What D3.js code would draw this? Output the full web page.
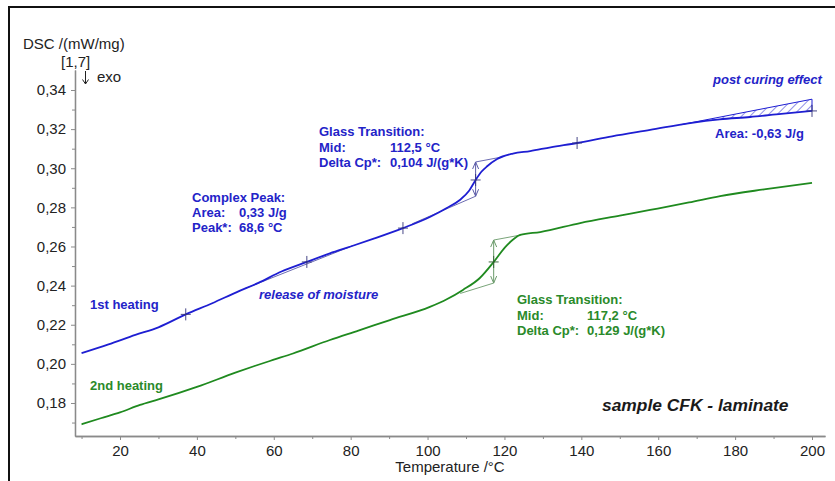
<!DOCTYPE html>
<html>
<head>
<meta charset="utf-8">
<script src="https://cdn.jsdelivr.net/npm/d3@7"></script>
<style>
  html, body { margin: 0; padding: 0; background: #fff; }
  svg { display: block; font-family: "Liberation Sans", Arial, sans-serif; }
</style>
</head>
<body>
<svg id="chart" width="835" height="481"></svg>
<script>
// ---- DSC data: 1st heating (blue) ----
const temp1 = [10, 17, 24, 30, 37.1, 44, 50.4, 56, 62, 68.6, 74.6, 80, 86, 93.6, 100.6, 105, 108.4,
               110.8, 112.5, 114, 115.5, 118.1, 122.2, 126.7, 132, 138.9, 148, 157.9, 168.3, 176, 183.9, 192, 200];
const dsc1  = [0.2055, 0.2100, 0.2148, 0.2187, 0.2253, 0.2310, 0.2367, 0.2414, 0.2472, 0.2521, 0.2565,
               0.2600, 0.2640, 0.2694, 0.2751, 0.2797, 0.2838, 0.2885, 0.2940, 0.2982, 0.3010, 0.3047,
               0.3075, 0.3088, 0.3107, 0.3129, 0.3163, 0.3196, 0.3231, 0.3250, 0.3262, 0.3278, 0.3293];

// ---- DSC data: 2nd heating (green) ----
const temp2 = [10, 15, 20, 25.2, 30, 40, 50, 55, 59.8, 65, 74.6, 82, 90.2, 100.6, 105, 109.2, 113.6,
               117.2, 120.2, 122.5, 124.1, 129.3, 139.7, 150, 157.9, 168, 176.1, 188, 200];
const dsc2  = [0.1691, 0.1722, 0.1752, 0.1790, 0.1818, 0.1882, 0.1955, 0.1989, 0.2020, 0.2053, 0.2122,
               0.2170, 0.2224, 0.2291, 0.2330, 0.2378, 0.2439, 0.2521, 0.2597, 0.2640, 0.2659, 0.2674,
               0.2720, 0.2758, 0.2787, 0.2825, 0.2858, 0.2893, 0.2925];

// ---- evaluation marks ----
const marks1 = [37.1, 68.6, 93.6, 112.5, 138.9, 200];    // "+" markers on 1st heating
const marks2 = [117.2];                                  // "+" marker on 2nd heating
// complex peak baseline [T, DSC]
const peakBase = [[52.5, 0.2385], [80.5, 0.2604]];
// glass transition tangents [T, DSC]
const gt1Lower = [[96, 0.2716], [112.5, 0.2857]];
const gt1Upper = [[112.5, 0.3032], [119.5, 0.3058]];
const gt2Lower = [[108.5, 0.2360], [117.2, 0.2413]];
const gt2Upper = [[117.2, 0.2633], [124.3, 0.2659]];
// post curing baseline [T, DSC]
const postBase = [[166, 0.3223], [200, 0.3353]];

// ---- axis ticks ----
const yMajor = [0.18, 0.20, 0.22, 0.24, 0.26, 0.28, 0.30, 0.32, 0.34];
const yMinor = [0.17, 0.19, 0.21, 0.23, 0.25, 0.27, 0.29, 0.31, 0.33];
const xMajor = [20, 40, 60, 80, 100, 120, 140, 160, 180, 200];
const xMinor = [10, 30, 50, 70, 90, 110, 130, 150, 170, 190];

// ---- text ----
const yTitle = "DSC /(mW/mg)";
const yFactor = "[1,7]";
const exoText = "exo";
const xTitle = "Temperature /°C";
const sampleTitle = "sample CFK - laminate";
const label1 = "1st heating";
const label2 = "2nd heating";
const peakLines = [["Complex Peak:", ""], ["Area:", "0,33 J/g"], ["Peak*:", "68,6 °C"]];
const gt1Lines = [["Glass Transition:", ""], ["Mid:", "112,5 °C"], ["Delta Cp*:", "0,104 J/(g*K)"]];
const gt2Lines = [["Glass Transition:", ""], ["Mid:", "117,2 °C"], ["Delta Cp*:", "0,129 J/(g*K)"]];
const moistureText = "release of moisture";
const postText = "post curing effect";
const postArea = "Area: -0,63 J/g";

// ---- colors ----
const blue = "#1e1ed2", blueText = "#2323c8", blueThin = "#5a5aa8";
const green = "#1f8a1f", greenText = "#2a8a2a", greenThin = "#6a9a6a";
const axisColor = "#8a8a8a", labelColor = "#222";

const svg = d3.select("#chart");

// scales
const x = d3.scaleLinear().domain([8.295, 203.38]).range([75, 825]);
const y = d3.scaleLinear().domain([0.16313, 0.35022]).range([436, 70]);
const fmt = d => d3.format(".2f")(d).replace(".", ",");

// frame
svg.append("path").attr("d", "M9,481V7H835").attr("fill", "none")
  .attr("stroke", "#111").attr("stroke-width", 2);

// axes
const yAxis = svg.append("g").attr("transform", "translate(75,0)")
  .call(d3.axisLeft(y).tickValues(yMajor).tickFormat(fmt).tickSize(4).tickSizeOuter(0));
const yAxisMinor = svg.append("g").attr("transform", "translate(75,0)")
  .call(d3.axisLeft(y).tickValues(yMinor).tickFormat("").tickSize(3).tickSizeOuter(0));
const xAxis = svg.append("g").attr("transform", "translate(0,436)")
  .call(d3.axisBottom(x).tickValues(xMajor).tickFormat(d3.format("d")).tickSize(4).tickSizeOuter(0));
const xAxisMinor = svg.append("g").attr("transform", "translate(0,436)")
  .call(d3.axisBottom(x).tickValues(xMinor).tickFormat("").tickSize(3).tickSizeOuter(0));

[yAxis, yAxisMinor, xAxis, xAxisMinor].forEach(g => {
  g.select(".domain").attr("stroke", axisColor).attr("stroke-width", 1.3);
  g.selectAll(".tick line").attr("stroke", axisColor);
  g.selectAll("text").attr("fill", labelColor).style("font-size", "15px")
    .style("font-family", "'Liberation Sans', Arial, sans-serif");
});
yAxis.selectAll("text").attr("x", -9);
xAxis.selectAll("text").attr("dy", 0).attr("y", 20);

// axis titles
svg.append("text").attr("x", 23).attr("y", 49).text(yTitle)
  .attr("fill", labelColor).style("font-size", "15px");
svg.append("text").attr("x", 61).attr("y", 67).text(yFactor)
  .attr("fill", labelColor).style("font-size", "15px");
// exo direction arrow
svg.append("path").attr("d", "M85.5,71V84M82.5,79.5L85.5,84L88.5,79.5")
  .attr("fill", "none").attr("stroke", labelColor).attr("stroke-width", 1);
svg.append("text").attr("x", 97).attr("y", 82).text(exoText)
  .attr("fill", labelColor).style("font-size", "15px");
svg.append("text").attr("x", 450).attr("y", 472).attr("text-anchor", "middle").text(xTitle)
  .attr("fill", labelColor).style("font-size", "15px");

// line generators
const line = d3.line().x(d => x(d[0])).y(d => y(d[1])).curve(d3.curveMonotoneX);
const straight = d3.line().x(d => x(d[0])).y(d => y(d[1]));
const pts1 = temp1.map((t, i) => [t, dsc1[i]]);
const pts2 = temp2.map((t, i) => [t, dsc2[i]]);
const interp = (ts, vs, t) => {
  const i = Math.max(1, d3.bisectLeft(ts, t));
  const f = (t - ts[i - 1]) / (ts[i] - ts[i - 1]);
  return vs[i - 1] + f * (vs[i] - vs[i - 1]);
};

// post curing hatched area
const defs = svg.append("defs");
const pat = defs.append("pattern").attr("id", "hatch").attr("patternUnits", "userSpaceOnUse")
  .attr("width", 6).attr("height", 6).attr("patternTransform", "rotate(45)");
pat.append("line").attr("x1", 0).attr("y1", 0).attr("x2", 0).attr("y2", 6)
  .attr("stroke", blue).attr("stroke-width", 1);
const baseAt = t => postBase[0][1] + (t - postBase[0][0]) / (postBase[1][0] - postBase[0][0]) * (postBase[1][1] - postBase[0][1]);
const hatchTs = [postBase[0][0]].concat(temp1.filter(t => t > postBase[0][0] && t <= 200));
const hatchData = hatchTs.map(t => ({ t, lo: interp(temp1, dsc1, t), hi: baseAt(t) }));
svg.append("path").datum(hatchData)
  .attr("d", d3.area().x(d => x(d.t)).y0(d => y(d.lo)).y1(d => y(d.hi)).curve(d3.curveMonotoneX))
  .attr("fill", "url(#hatch)").attr("stroke", "none");
svg.append("path").datum(postBase).attr("d", straight).attr("fill", "none")
  .attr("stroke", blue).attr("stroke-width", 1);
svg.append("line").attr("x1", x(200)).attr("x2", x(200))
  .attr("y1", y(postBase[1][1])).attr("y2", y(interp(temp1, dsc1, 200)))
  .attr("stroke", blue).attr("stroke-width", 1);

// thin evaluation lines
svg.append("path").datum(peakBase).attr("d", straight).attr("fill", "none")
  .attr("stroke", blueThin).attr("stroke-width", 0.9);
[[gt1Lower, blueThin], [gt1Upper, blueThin], [gt2Lower, greenThin], [gt2Upper, greenThin]].forEach(([d, c]) => {
  svg.append("path").datum(d).attr("d", straight).attr("fill", "none")
    .attr("stroke", c).attr("stroke-width", 0.9);
});

// double arrows for delta Cp
function dblArrow(t, vTop, vBot, color) {
  const xx = x(t), y1 = y(vTop), y2 = y(vBot);
  const g = svg.append("g").attr("stroke", color).attr("stroke-width", 1).attr("fill", "none");
  g.append("line").attr("x1", xx).attr("x2", xx).attr("y1", y1).attr("y2", y2);
  g.append("path").attr("d", `M${xx - 3},${y1 + 7}L${xx},${y1}L${xx + 3},${y1 + 7}`);
  g.append("path").attr("d", `M${xx - 3},${y2 - 7}L${xx},${y2}L${xx + 3},${y2 - 7}`);
}
dblArrow(gt1Upper[0][0], gt1Upper[0][1], gt1Lower[1][1], blueThin);
dblArrow(gt2Upper[0][0], gt2Upper[0][1], gt2Lower[1][1], greenThin);

// curves
svg.append("path").datum(pts2).attr("d", line).attr("fill", "none")
  .attr("stroke", green).attr("stroke-width", 1.8);
svg.append("path").datum(pts1).attr("d", line).attr("fill", "none")
  .attr("stroke", blue).attr("stroke-width", 1.8);

// "+" markers
function cross(t, v, color) {
  const xx = x(t), yy = y(v);
  svg.append("path").attr("d", `M${xx - 5},${yy}H${xx + 5}M${xx},${yy - 6}V${yy + 6}`)
    .attr("stroke", color).attr("stroke-width", 0.9).attr("fill", "none");
}
marks1.forEach(t => cross(t, interp(temp1, dsc1, t), "#33337a"));
marks2.forEach(t => cross(t, interp(temp2, dsc2, t), "#2f5a2f"));

// annotation text
function txt(xp, yp, s, color, opts = {}) {
  return svg.append("text").attr("x", xp).attr("y", yp).text(s).attr("fill", color)
    .style("font-size", (opts.size || 13) + "px").style("font-weight", "bold")
    .style("font-style", opts.italic ? "italic" : "normal");
}
function block(lines, x0, x1, yStart, step, color) {
  lines.forEach((l, i) => {
    txt(x0, yStart + i * step, l[0], color);
    if (l[1]) txt(x1, yStart + i * step, l[1], color);
  });
}
txt(90, 309, label1, blueText);
txt(90, 390, label2, greenText);
block(peakLines, 192, 239, 201.5, 15.3, blueText);
block(gt1Lines, 319, 390, 136, 15.5, blueText);
block(gt2Lines, 517, 587, 304, 15.5, greenText);
txt(259, 299, moistureText, blueText, { italic: true });
txt(713, 84, postText, blueText, { italic: true });
txt(715, 138, postArea, blueText);
txt(602, 411, sampleTitle, "#1a1a1a", { italic: true, size: 17.4 });
</script>
</body>
</html>
